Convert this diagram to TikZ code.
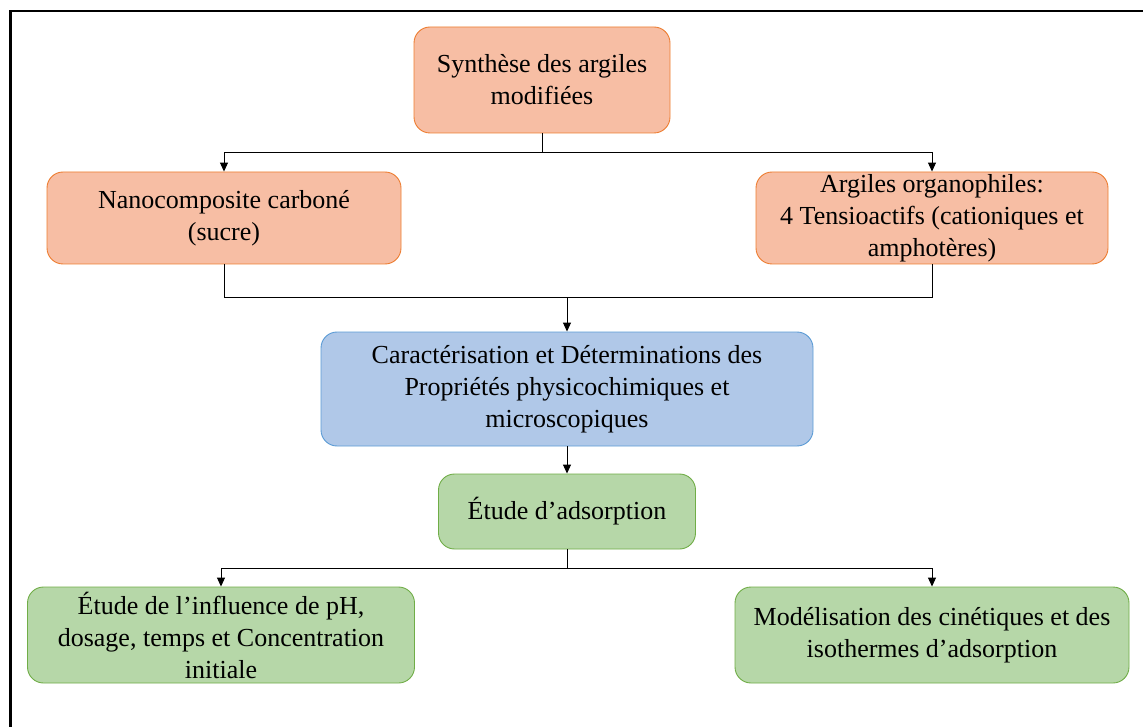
\documentclass[tikz,border=0pt]{standalone}
\usepackage{fontspec}
\setmainfont{Liberation Serif}
\usetikzlibrary{arrows.meta}
\definecolor{orfill}{RGB}{247,190,164}
\definecolor{ordraw}{RGB}{237,125,49}
\definecolor{blfill}{RGB}{176,200,232}
\definecolor{bldraw}{RGB}{91,155,213}
\definecolor{grfill}{RGB}{182,215,168}
\definecolor{grdraw}{RGB}{112,173,71}
\tikzset{
  box/.style={rounded corners=16pt, line width=0.9pt, align=center, inner sep=0pt,
    font=\fontsize{26}{32}\selectfont},
  orbox/.style={box, fill=orfill, draw=ordraw},
  blbox/.style={box, fill=blfill, draw=bldraw},
  grbox/.style={box, fill=grfill, draw=grdraw},
  conn/.style={line width=1pt, black},
  arr/.style={conn, -{Triangle[length=9pt,width=8pt]}}
}
\begin{document}
\begin{tikzpicture}[x=1pt,y=-1pt]
\useasboundingbox (0,0) rectangle (1143,727);
% frame
\draw[line width=2.6pt] (10.5,730) -- (10.5,11) -- (1146,11);
% nodes
\node[orbox, minimum width=256pt, minimum height=106pt] (syn) at (542,80) {Synthèse des argiles\\modifiées};
\node[orbox, minimum width=354pt, minimum height=92pt] (nano) at (224,218) {Nanocomposite carboné\\(sucre)};
\node[orbox, minimum width=352pt, minimum height=92pt] (argo) at (932,218) {Argiles organophiles:\\4 Tensioactifs (cationiques et\\amphotères)};
\node[blbox, minimum width=492pt, minimum height=114pt] (carac) at (567,389) {Caractérisation et Déterminations des\\Propriétés physicochimiques  et\\microscopiques};
\node[grbox, minimum width=257pt, minimum height=75pt] (etude) at (567,511.5) {Étude d’adsorption};
\node[grbox, minimum width=387pt, minimum height=96pt] (infl) at (221,635) {Étude de l’influence de pH,\\dosage, temps et Concentration\\initiale};
\node[grbox, minimum width=394pt, minimum height=96pt] (modl) at (932,635) {Modélisation  des cinétiques et des\\isothermes d’adsorption};
% junctions
\coordinate (j1) at (542,153);
\coordinate (j2) at (567,298);
\coordinate (j3) at (567,568);
% connectors
\draw[conn] (syn.south) -- (j1);
\draw[arr] (j1) -| (nano.north);
\draw[arr] (j1) -| (argo.north);
\draw[conn] (nano.south) |- (j2);
\draw[conn] (argo.south) |- (j2);
\draw[arr] (j2) -- (carac.north);
\draw[arr] (carac.south) -- (etude.north);
\draw[conn] (etude.south) -- (j3);
\draw[arr] (j3) -| (infl.north);
\draw[arr] (j3) -| (modl.north);
\end{tikzpicture}
\end{document}
